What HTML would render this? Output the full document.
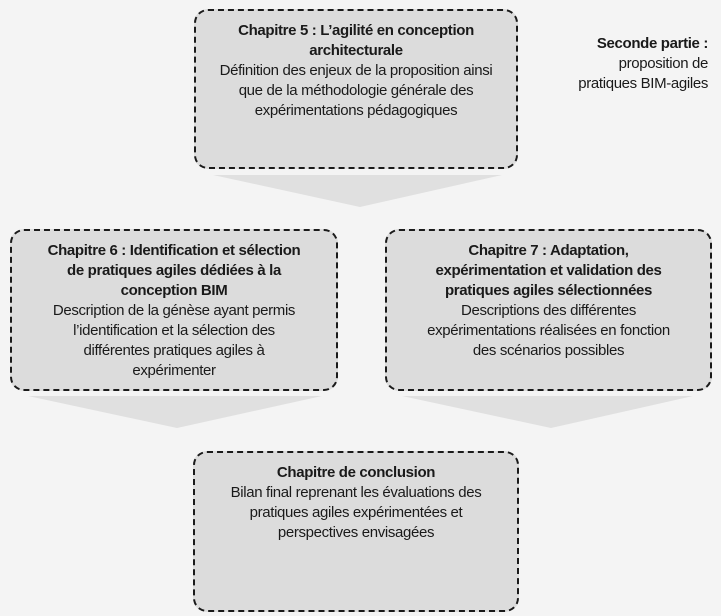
<!DOCTYPE html>
<html><head><meta charset="utf-8"><style>
body{margin:0;width:721px;height:616px;background:#f4f4f4;position:relative;overflow:hidden;font-family:"Liberation Sans",sans-serif;color:#1a1a1a;}
.box{position:absolute;box-sizing:border-box;background:#dcdcdc;border:2.5px dashed #1a1a1a;border-radius:14px;text-align:center;font-size:15px;line-height:20px;padding-top:10px;letter-spacing:-0.35px}
.box b{font-weight:bold}
svg{position:absolute;left:0;top:0}
.note{position:absolute;right:13px;top:34px;text-align:right;font-size:15px;line-height:20px;letter-spacing:-0.35px}
</style></head><body>
<svg width="721" height="616">
<polygon points="213,175 502,175 360,207" fill="#e0e0e0"/>
<polygon points="28,396 322,396 177,428" fill="#e0e0e0"/>
<polygon points="402,396 693,396 551,428" fill="#e0e0e0"/>
</svg>
<div class="box" style="left:194px;top:9px;width:324px;height:160px"><b>Chapitre 5 : L’agilité en conception<br>architecturale</b><br>Définition des enjeux de la proposition ainsi<br>que de la méthodologie générale des<br>expérimentations pédagogiques</div>
<div class="note"><b>Seconde partie :</b><br>proposition de<br>pratiques BIM-agiles</div>
<div class="box" style="left:10px;top:229px;width:328px;height:162px"><b>Chapitre 6 : Identification et sélection<br>de pratiques agiles dédiées à la<br>conception BIM</b><br>Description de la génèse ayant permis<br>l’identification et la sélection des<br>différentes pratiques agiles à<br>expérimenter</div>
<div class="box" style="left:385px;top:229px;width:327px;height:162px"><b>Chapitre 7 : Adaptation,<br>expérimentation et validation des<br>pratiques agiles sélectionnées</b><br>Descriptions des différentes<br>expérimentations réalisées en fonction<br>des scénarios possibles</div>
<div class="box" style="left:193px;top:451px;width:326px;height:161px"><b>Chapitre de conclusion</b><br>Bilan final reprenant les évaluations des<br>pratiques agiles expérimentées et<br>perspectives envisagées</div>
</body></html>
